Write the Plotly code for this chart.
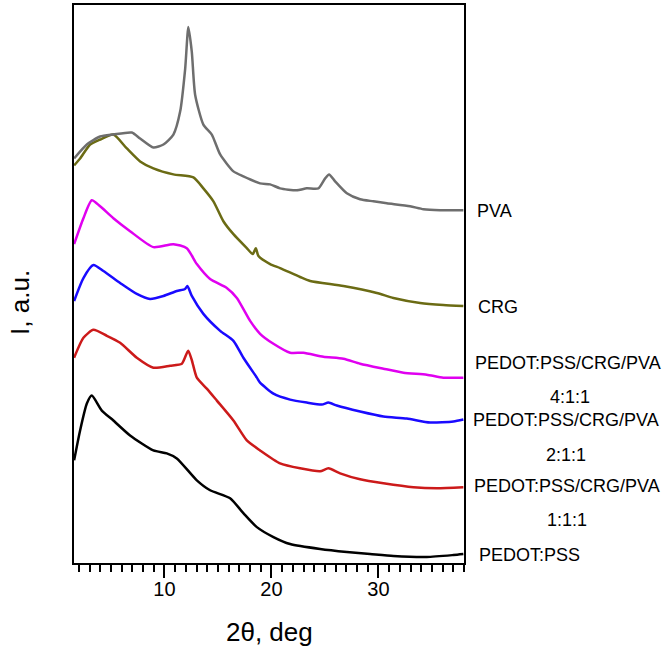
import plotly.graph_objects as go

# ---- data (2theta in deg, intensity in arbitrary offset units) ----
pva_x = [1.56, 2.75, 3.99, 5.21, 6.95, 7.73, 8.97, 9.91, 10.84, 11.47, 11.94, 12.24, 12.56, 12.87,
         13.64, 14.43, 15.21, 16.45, 17.38, 18.94, 19.88, 20.81, 22.37, 23.31, 24.39, 25.02, 25.39,
         25.95, 27.05, 28.29, 29.53, 30.79, 32.96, 34.21, 35.77, 37.94]
pva_y = [406, 420, 428, 430, 432, 426, 417, 420, 430, 453, 496, 538, 513, 470,
         440, 430, 410, 393, 388, 381, 380, 376, 374, 376, 376, 386, 390,
         383, 371, 365, 363, 361, 358, 355, 354, 354]

crg_x = [1.56, 2.12, 3.06, 3.99, 5.23, 6.49, 7.73, 8.97, 10.84, 12.71, 13.64, 14.58, 15.51, 16.45,
         17.70, 18.26, 18.54, 18.79, 19.88, 20.81, 22.68, 23.62, 26.73, 29.85, 31.40, 33.90, 36.07, 37.94]
crg_y = [399, 406, 420, 425, 430, 416, 403, 396, 390, 387, 376, 363, 343, 330,
         316, 310, 316, 308, 300, 296, 287, 283, 278, 271, 266, 261, 259, 258]

p411_x = [1.56, 2.43, 3.21, 3.99, 5.23, 6.79, 8.97, 10.84, 12.09, 13.03, 14.27, 15.83, 16.77, 18.01,
          18.94, 20.19, 21.75, 22.99, 24.86, 26.73, 28.29, 30.47, 32.34, 34.52, 36.07, 37.94]
p411_y = [320, 346, 364, 358, 346, 333, 317, 320, 316, 300, 285, 276, 266, 243,
          230, 220, 211, 211, 207, 205, 200, 195, 191, 189, 186, 186]

p211_x = [1.56, 2.43, 3.36, 4.30, 5.86, 7.42, 8.66, 9.91, 11.16, 11.93, 12.15, 12.56, 13.64, 15.21,
          16.45, 17.38, 18.64, 18.94, 20.19, 21.75, 23.31, 24.71, 25.33, 26.11, 28.29, 30.47, 32.65,
          34.83, 37.01, 37.94]
p211_y = [263, 286, 299, 293, 281, 270, 265, 268, 273, 275, 278, 268, 250, 233,
          223, 206, 186, 181, 170, 164, 161, 159, 161, 158, 152, 147, 145,
          141, 142, 144]

p111_x = [1.56, 2.43, 3.36, 4.62, 5.86, 7.42, 8.97, 10.53, 11.63, 12.22, 12.55, 13.03, 13.96, 14.90,
          16.45, 17.70, 18.94, 20.81, 22.68, 24.55, 25.33, 26.42, 28.29, 30.47, 33.27, 35.46, 37.94]
p111_y = [206, 226, 234, 228, 221, 206, 196, 198, 200, 213, 204, 186, 175, 163,
          143, 123, 113, 100, 95, 92, 95, 90, 84, 80, 76, 75, 76]

pedot_x = [1.56, 2.12, 2.75, 3.21, 4.15, 5.23, 6.79, 8.97, 10.22, 11.16, 13.03, 14.27, 16.14, 17.38,
           18.64, 20.19, 21.75, 24.55, 27.05, 29.22, 31.40, 34.52, 37.01, 37.94]
pedot_y = [103, 133, 160, 168, 153, 143, 128, 113, 110, 105, 83, 73, 65, 50,
           36, 26, 19, 14, 11, 9, 7, 6, 8, 9]

series = [
    ("PEDOT:PSS", pedot_x, pedot_y, "#000000"),
    ("PEDOT:PSS/CRG/PVA 1:1:1", p111_x, p111_y, "#cc1a1a"),
    ("PEDOT:PSS/CRG/PVA 2:1:1", p211_x, p211_y, "#1a0aff"),
    ("PEDOT:PSS/CRG/PVA 4:1:1", p411_x, p411_y, "#e000f0"),
    ("CRG", crg_x, crg_y, "#6b6b14"),
    ("PVA", pva_x, pva_y, "#6e6e6e"),
]

# label text, left px, center-y px, anchor
labels = [
    ("PVA", 475, 210, "left"),
    ("CRG", 476, 306, "left"),
    ("PEDOT:PSS/CRG/PVA", 473, 362, "left"),
    ("4:1:1", 570, 396, "center"),
    ("PEDOT:PSS/CRG/PVA", 471, 419, "left"),
    ("2:1:1", 566, 455, "center"),
    ("PEDOT:PSS/CRG/PVA", 472, 486, "left"),
    ("1:1:1", 567, 520, "center"),
    ("PEDOT:PSS", 477, 555, "left"),
]

FONT = "Liberation Sans, Arial, sans-serif"
L, R, T, B = 74, 464, 3, 563
W, H = 669, 653

fig = go.Figure()
for name, xs, ys, col in series:
    fig.add_trace(go.Scatter(x=xs, y=ys, mode="lines", name=name,
                             line=dict(color=col, width=2.5, shape="spline", smoothing=0.6),
                             showlegend=False))

annotations = []
for txt, px, py, anc in labels:
    annotations.append(dict(text=txt, xref="paper", yref="paper",
                            x=(px - L) / (R - L), y=(B - py) / (B - T),
                            xanchor=anc, yanchor="middle", showarrow=False,
                            font=dict(family=FONT, size=18, color="black")))
annotations.append(dict(text="2θ, deg", xref="paper", yref="paper",
                        x=0.5, y=(B - 632) / (B - T), xanchor="center", yanchor="middle",
                        showarrow=False, font=dict(family=FONT, size=26, color="black")))
annotations.append(dict(text="I, a.u.", xref="paper", yref="paper", textangle=-90,
                        x=(20 - L) / (R - L), y=(B - 302) / (B - T), xanchor="center",
                        yanchor="middle", showarrow=False,
                        font=dict(family=FONT, size=26, color="black")))

fig.update_layout(
    width=W, height=H,
    margin=dict(l=L, r=W - R, t=T, b=H - B),
    plot_bgcolor="white", paper_bgcolor="white",
    annotations=annotations,
    xaxis=dict(range=[1.55, 38.0], showgrid=False, zeroline=False,
               showline=True, linecolor="black", linewidth=2, mirror=True,
               ticks="outside", ticklen=13, tickwidth=2, tickcolor="black",
               tick0=0, dtick=10, ticklabelstandoff=-6,
               minor=dict(dtick=1, ticks="outside", ticklen=7, tickwidth=2, tickcolor="black"),
               tickfont=dict(family=FONT, size=20, color="black")),
    yaxis=dict(range=[0, 560], showgrid=False, zeroline=False,
               showline=True, linecolor="black", linewidth=2, mirror=True,
               showticklabels=False, ticks=""),
)

fig.write_html("out.html", config={"displayModeBar": False},
               post_script="document.body.style.margin='0';")
